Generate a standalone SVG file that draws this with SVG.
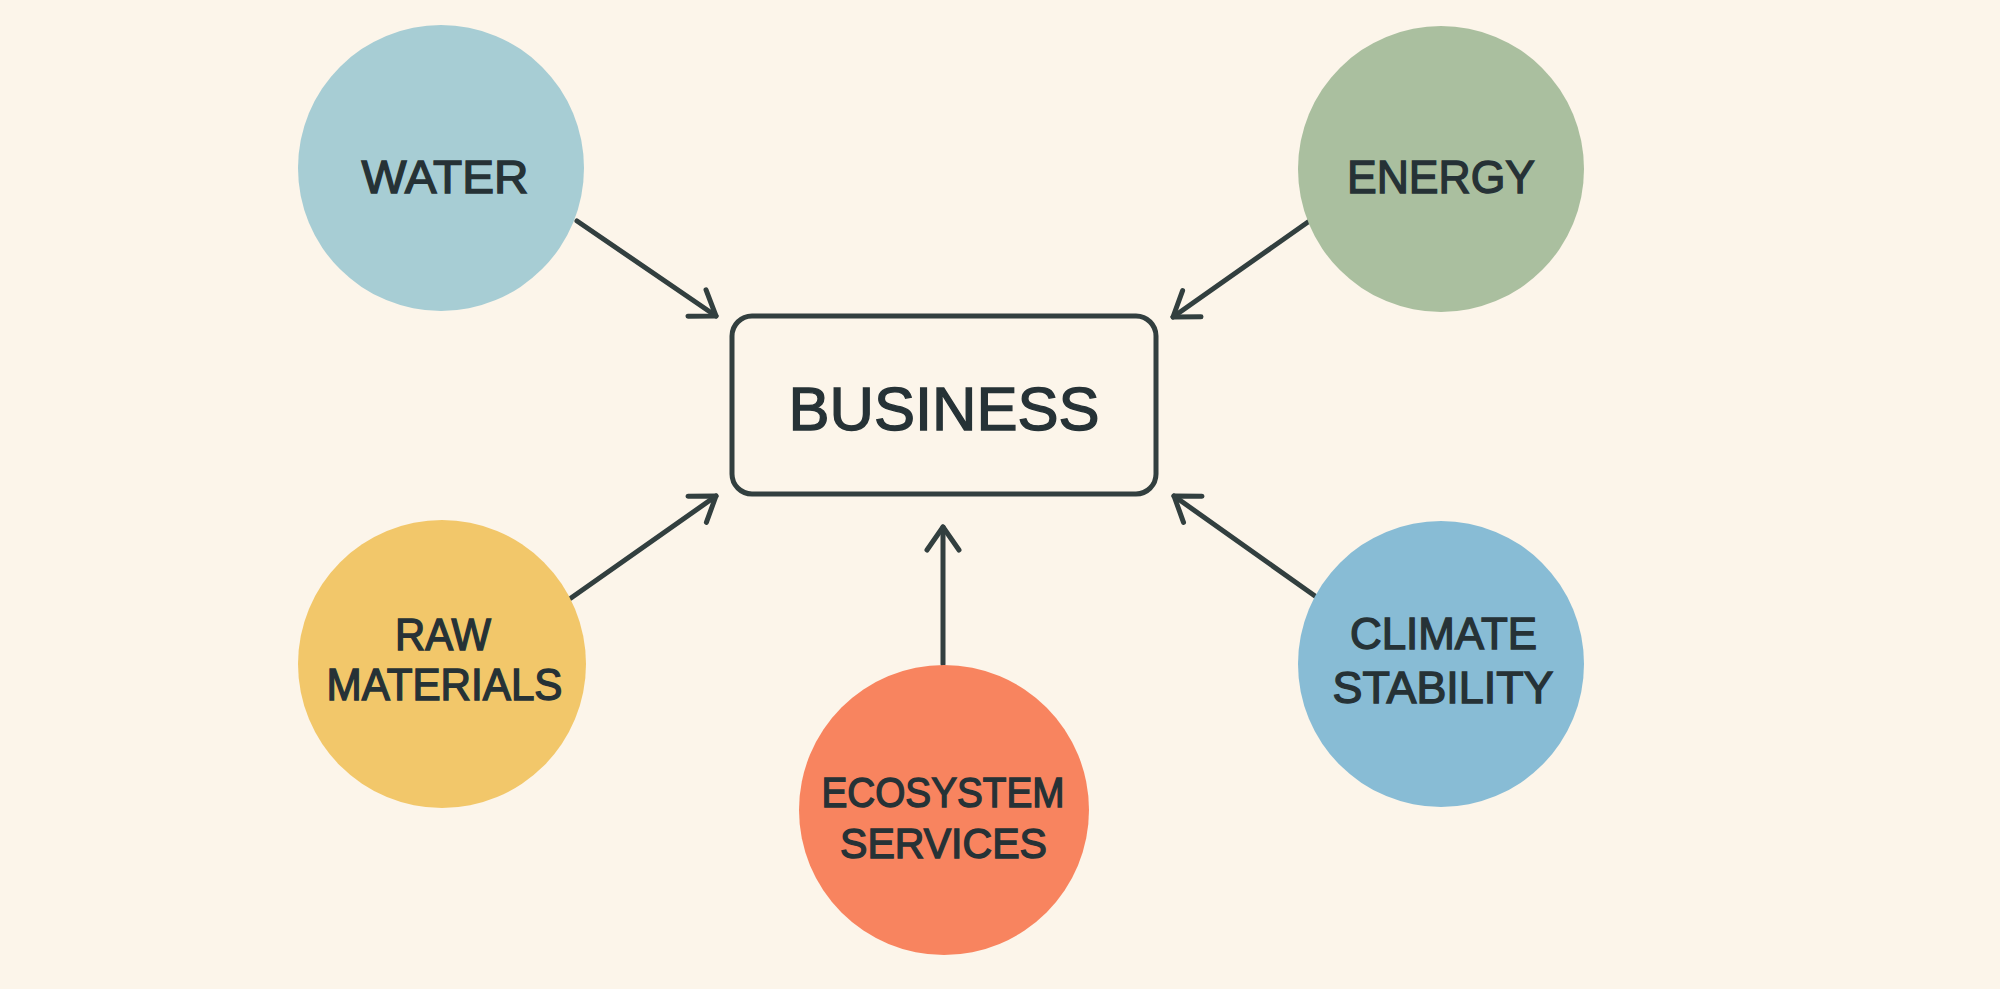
<svg xmlns="http://www.w3.org/2000/svg" width="2000" height="989" viewBox="0 0 2000 989">
  <defs>
    <style>
      .lbl { font-family: "Liberation Sans", Arial, sans-serif; fill: #263236; stroke: #263236; stroke-width: 1.4; text-anchor: middle; }
      .conn { stroke: #323f3f; stroke-width: 5; fill: none; stroke-linecap: round; stroke-linejoin: round; }
    </style>
    <marker id="arrow" markerUnits="userSpaceOnUse" markerWidth="40" markerHeight="40" viewBox="-30 -20 34 40" refX="0" refY="0" orient="auto">
      <path d="M -23 -16 L 0 0 L -23 16" fill="none" stroke="#323f3f" stroke-width="5" stroke-linecap="round" stroke-linejoin="round"/>
    </marker>
  </defs>
  <rect width="2000" height="989" fill="#fcf5ea"/>

  <g id="connectors">
    <line class="conn" x1="577" y1="221" x2="716" y2="316" marker-end="url(#arrow)"/>
    <line class="conn" x1="1308" y1="222" x2="1173" y2="317" marker-end="url(#arrow)"/>
    <line class="conn" x1="571" y1="598" x2="716" y2="496" marker-end="url(#arrow)"/>
    <line class="conn" x1="1315" y1="596" x2="1174" y2="496" marker-end="url(#arrow)"/>
    <line class="conn" x1="943" y1="664" x2="943" y2="527" marker-end="url(#arrow)"/>
  </g>

  <g id="business">
    <rect x="732" y="316" width="424" height="178" rx="20" ry="20" fill="none" stroke="#323f3f" stroke-width="5"/>
    <text class="lbl" x="944" y="430" font-size="62" textLength="311" lengthAdjust="spacingAndGlyphs">BUSINESS</text>
  </g>

  <g id="water">
    <circle cx="441" cy="168" r="143" fill="#a7cdd4"/>
    <text class="lbl" x="445" y="193" font-size="47" textLength="167" lengthAdjust="spacingAndGlyphs">WATER</text>
  </g>

  <g id="energy">
    <circle cx="1441" cy="169" r="143" fill="#aabf9f"/>
    <text class="lbl" x="1441" y="193" font-size="47" textLength="188" lengthAdjust="spacingAndGlyphs">ENERGY</text>
  </g>

  <g id="raw-materials">
    <circle cx="442" cy="664" r="144" fill="#f2c76a"/>
    <text class="lbl" x="443" y="650" font-size="44" textLength="96" lengthAdjust="spacingAndGlyphs">RAW</text>
    <text class="lbl" x="444.5" y="700" font-size="44" textLength="236" lengthAdjust="spacingAndGlyphs">MATERIALS</text>
  </g>

  <g id="ecosystem-services">
    <circle cx="944" cy="810" r="145" fill="#f8845f"/>
    <text class="lbl" x="943" y="807" font-size="42" textLength="243" lengthAdjust="spacingAndGlyphs">ECOSYSTEM</text>
    <text class="lbl" x="943.5" y="858" font-size="42" textLength="207" lengthAdjust="spacingAndGlyphs">SERVICES</text>
  </g>

  <g id="climate-stability">
    <circle cx="1441" cy="664" r="143" fill="#88bcd5"/>
    <text class="lbl" x="1443.5" y="649" font-size="45" textLength="187" lengthAdjust="spacingAndGlyphs">CLIMATE</text>
    <text class="lbl" x="1443" y="703" font-size="45" textLength="221" lengthAdjust="spacingAndGlyphs">STABILITY</text>
  </g>
</svg>
